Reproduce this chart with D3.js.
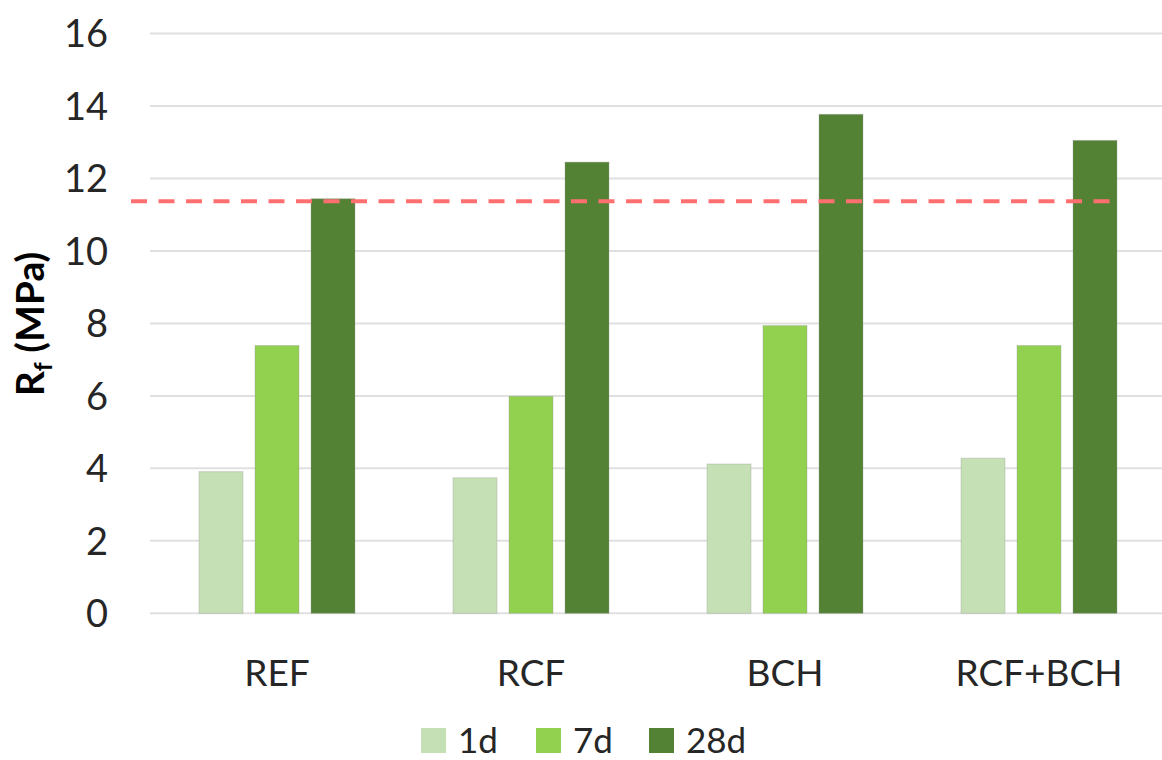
<!DOCTYPE html>
<html><head><meta charset="utf-8">
<script src="https://cdn.jsdelivr.net/npm/d3@7"></script>
<style>body{margin:0;background:#fff}svg{display:block}</style>
</head><body>
<svg id="chart" width="1162" height="760"></svg>
<script>
const categories = ["REF", "RCF", "BCH", "RCF+BCH"];
const seriesNames = ["1d", "7d", "28d"];
const values1d = [3.91, 3.74, 4.12, 4.28];
const values7d = [7.39, 5.99, 7.94, 7.39];
const values28d = [11.44, 12.45, 13.77, 13.05];
const referenceLine = 11.37;
const yTicks = [0, 2, 4, 6, 8, 10, 12, 14, 16];
const colors = ["#c5e0b4", "#92d050", "#548235"];

const series = [values1d, values7d, values28d];
const svg = d3.select("#chart");
const font = "Lato, 'Open Sans', sans-serif";

const x0 = d3.scaleBand().domain(categories).range([150, 1166]).paddingInner(0).paddingOuter(0);
const y = d3.scaleLinear().domain([0, 16]).range([613.3, 33.5]);
const groupInset = (x0.bandwidth() - 156) / 2;
const x1 = d3.scaleBand().domain(seriesNames).range([groupInset, x0.bandwidth() - groupInset]).paddingInner(12 / 56).paddingOuter(0);

// gridlines
svg.append("g").selectAll("line").data(yTicks).join("line")
  .attr("x1", 150).attr("x2", 1162)
  .attr("y1", d => y(d)).attr("y2", d => y(d))
  .attr("stroke", "#e0e0e0").attr("stroke-width", 2);

// y tick labels
const yAxis = d3.axisLeft(y).tickValues(yTicks).tickSize(0).tickPadding(0);
const ya = svg.append("g").attr("transform", "translate(108,0)").call(yAxis);
ya.select(".domain").remove();
ya.selectAll("text").attr("font-family", font).attr("font-size", 38).attr("fill", "#262626").attr("dy", "0.35em");

// bars
const groups = svg.append("g").selectAll("g").data(categories).join("g")
  .attr("transform", d => `translate(${x0(d)},0)`);
groups.selectAll("rect").data((c, i) => seriesNames.map((s, j) => ({s, v: series[j][i], j})))
  .join("rect")
  .attr("x", d => x1(d.s)).attr("width", x1.bandwidth())
  .attr("y", d => y(d.v)).attr("height", d => y(0) - y(d.v))
  .attr("fill", d => colors[d.j])
  .attr("stroke", "rgba(150,150,150,0.35)").attr("stroke-width", 1);

// reference dashed line
svg.append("line")
  .attr("x1", 131).attr("x2", 1118)
  .attr("y1", y(referenceLine)).attr("y2", y(referenceLine))
  .attr("stroke", "#ff6f6f").attr("stroke-width", 4)
  .attr("stroke-dasharray", "16,11.5");

// x axis labels
const xAxis = d3.axisBottom(x0).tickSize(0).tickPadding(0);
const xa = svg.append("g").attr("transform", "translate(0,660)").call(xAxis);
xa.select(".domain").remove();
xa.selectAll("text").attr("font-family", font).attr("font-size", 37).attr("fill", "#262626").attr("dy", "0.71em");

// y axis title
const yt = svg.append("text")
  .attr("transform", "translate(44,324) rotate(-90)")
  .attr("text-anchor", "middle")
  .attr("font-family", font).attr("font-size", 39).attr("font-weight", "bold").attr("fill", "#000");
yt.append("tspan").text("R");
yt.append("tspan").text("f").attr("font-size", 25).attr("dy", 8);
yt.append("tspan").text(" (MPa)").attr("dy", -8);

// legend
const legendX = [421, 536, 649];
const leg = svg.append("g").selectAll("g").data(seriesNames).join("g")
  .attr("transform", (d, i) => `translate(${legendX[i]},728)`);
leg.append("rect").attr("width", 25).attr("height", 25).attr("fill", (d, i) => colors[i]);
leg.append("text").attr("x", 37).attr("y", 25).text(d => d)
  .attr("font-family", font).attr("font-size", 35).attr("fill", "#262626");
</script>
</body></html>
